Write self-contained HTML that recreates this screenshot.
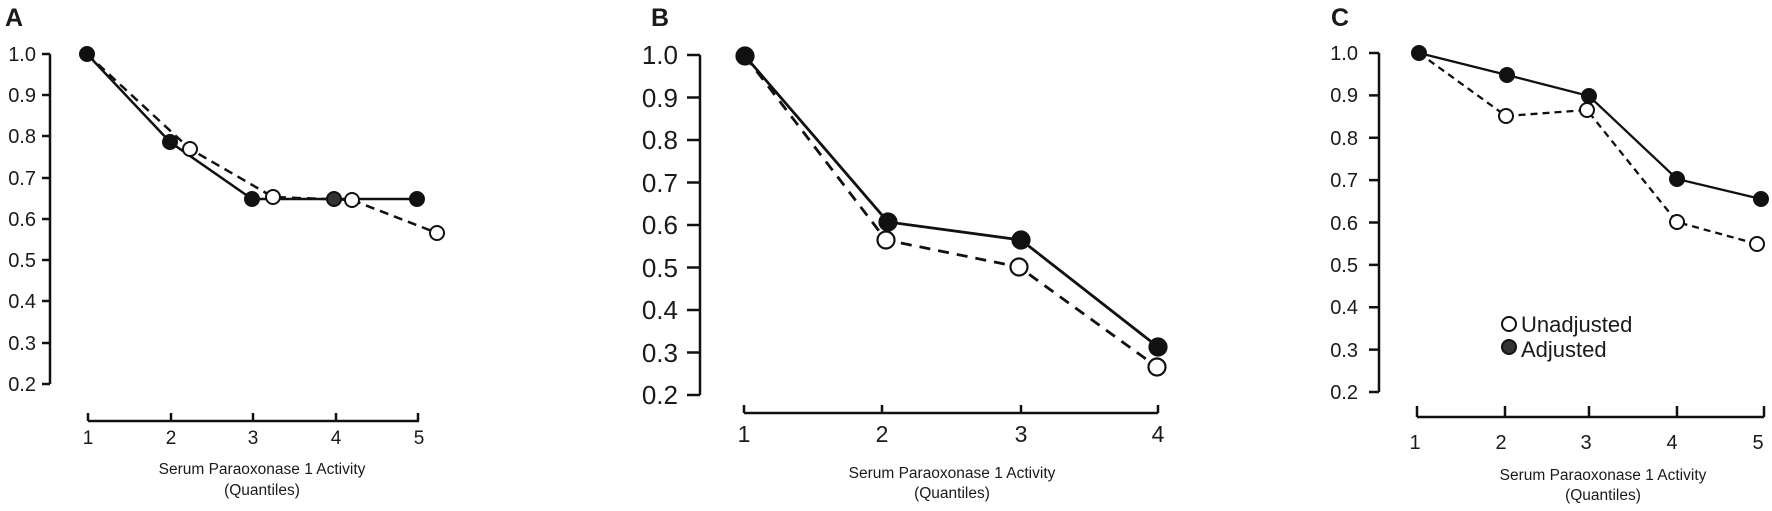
<!DOCTYPE html>
<html><head><meta charset="utf-8"><style>
html,body{margin:0;padding:0;background:#fff;}
svg{display:block;}
text{font-family:"Liberation Sans",Arial,sans-serif;fill:#1a1a1a;}
</style></head><body>
<svg width="1772" height="511" viewBox="0 0 1772 511" xmlns="http://www.w3.org/2000/svg">
<g stroke="#111" stroke-width="2.5" fill="none">
<path d="M50,54 V384 M42,54 H50 M42,95 H50 M42,136 H50 M42,178 H50 M42,219 H50 M42,260 H50 M42,301 H50 M42,343 H50 M42,384 H50"/>
<path d="M88,421 H419 M88,413 V421 M171,413 V421 M253,413 V421 M336,413 V421 M418,413 V421"/>
<path d="M700,55 V395 M687,55 H700 M687,97.5 H700 M687,140 H700 M687,182.5 H700 M687,225 H700 M687,267.5 H700 M687,310 H700 M687,352.5 H700 M687,395 H700"/>
<path d="M744,413 H1158 M744,405 V413 M882,405 V413 M1021,405 V413 M1158,405 V413"/>
<path d="M1379,53 V392 M1369,53 H1379 M1369,95.4 H1379 M1369,137.8 H1379 M1369,180.1 H1379 M1369,222.5 H1379 M1369,264.9 H1379 M1369,307.3 H1379 M1369,349.6 H1379 M1369,392 H1379"/>
<path d="M1417,417 H1764 M1417,406 V417 M1505,406 V417 M1589,406 V417 M1677,406 V417 M1764,406 V417"/>
</g>
<g stroke="#111" stroke-width="2.5" fill="none">
<polyline points="87,54 190,149 273,197 352,200 437,233" stroke-dasharray="9,6"/>
<polyline points="87,54 170,142 252,199 334,199 417,199"/>
</g>
<g stroke="#111" stroke-width="2">
<circle cx="87" cy="54" r="7" fill="#111"/>
<circle cx="170" cy="142" r="7" fill="#111"/>
<circle cx="252" cy="199" r="7" fill="#111"/>
<circle cx="334" cy="199" r="7" fill="#333"/>
<circle cx="417" cy="199" r="7" fill="#111"/>
<circle cx="190" cy="149" r="7" fill="#fff"/>
<circle cx="273" cy="197" r="7" fill="#fff"/>
<circle cx="352" cy="200" r="7" fill="#fff"/>
<circle cx="437" cy="233" r="7" fill="#fff"/>
</g>
<g stroke="#111" stroke-width="2.8" fill="none">
<polyline points="745,56 886,240 1019,267 1157,367" stroke-dasharray="11,8"/>
<polyline points="745,56 888,222 1021,240 1158,347"/>
</g>
<g stroke="#111" stroke-width="2.2">
<circle cx="745" cy="56" r="8.5" fill="#111"/>
<circle cx="886" cy="240" r="8.5" fill="#fff"/>
<circle cx="1019" cy="267" r="8.5" fill="#fff"/>
<circle cx="1157" cy="367" r="8.5" fill="#fff"/>
<circle cx="888" cy="222" r="8.5" fill="#111"/>
<circle cx="1021" cy="240" r="8.5" fill="#111"/>
<circle cx="1158" cy="347" r="8.5" fill="#111"/>
</g>
<g stroke="#111" stroke-width="2.3" fill="none">
<polyline points="1419,53 1506,116 1587,110 1677,222 1757,244" stroke-dasharray="7,5"/>
<polyline points="1419,53 1507,75 1589,96 1677,179 1761,199"/>
</g>
<g stroke="#111" stroke-width="2">
<circle cx="1506" cy="116" r="7" fill="#fff"/>
<circle cx="1587" cy="110" r="7" fill="#fff"/>
<circle cx="1677" cy="222" r="7" fill="#fff"/>
<circle cx="1757" cy="244" r="7" fill="#fff"/>
<circle cx="1419" cy="53" r="7" fill="#111"/>
<circle cx="1507" cy="75" r="7" fill="#111"/>
<circle cx="1589" cy="96" r="7" fill="#111"/>
<circle cx="1677" cy="179" r="7" fill="#111"/>
<circle cx="1761" cy="199" r="7" fill="#111"/>
<circle cx="1509" cy="324" r="7" fill="#fff"/>
<circle cx="1509" cy="347" r="7" fill="#333"/>
</g>
<text x="5" y="26" font-size="25" font-weight="bold">A</text>
<text x="651" y="26" font-size="25" font-weight="bold">B</text>
<text x="1331" y="26" font-size="25" font-weight="bold">C</text>
<g font-size="20" text-anchor="end">
<text x="36" y="61">1.0</text><text x="36" y="102">0.9</text><text x="36" y="143">0.8</text><text x="36" y="185">0.7</text><text x="36" y="226">0.6</text><text x="36" y="267">0.5</text><text x="36" y="308">0.4</text><text x="36" y="350">0.3</text><text x="36" y="391">0.2</text>
</g>
<g font-size="19" text-anchor="middle">
<text x="88" y="444">1</text><text x="171" y="444">2</text><text x="253" y="444">3</text><text x="336" y="444">4</text><text x="419" y="444">5</text>
</g>
<g font-size="15.5" text-anchor="middle">
<text x="262" y="474">Serum Paraoxonase 1 Activity</text><text x="262" y="495">(Quantiles)</text>
</g>
<g font-size="26" text-anchor="end">
<text x="678" y="64">1.0</text><text x="678" y="107">0.9</text><text x="678" y="149">0.8</text><text x="678" y="192">0.7</text><text x="678" y="234">0.6</text><text x="678" y="277">0.5</text><text x="678" y="319">0.4</text><text x="678" y="362">0.3</text><text x="678" y="404">0.2</text>
</g>
<g font-size="23" text-anchor="middle">
<text x="744" y="442">1</text><text x="882" y="442">2</text><text x="1021" y="442">3</text><text x="1158" y="442">4</text>
</g>
<g font-size="15.5" text-anchor="middle">
<text x="952" y="478">Serum Paraoxonase 1 Activity</text><text x="952" y="498">(Quantiles)</text>
</g>
<g font-size="20" text-anchor="end">
<text x="1358" y="60">1.0</text><text x="1358" y="102">0.9</text><text x="1358" y="145">0.8</text><text x="1358" y="187">0.7</text><text x="1358" y="230">0.6</text><text x="1358" y="272">0.5</text><text x="1358" y="314">0.4</text><text x="1358" y="357">0.3</text><text x="1358" y="399">0.2</text>
</g>
<g font-size="20" text-anchor="middle">
<text x="1415" y="449">1</text><text x="1501" y="449">2</text><text x="1586" y="449">3</text><text x="1672" y="449">4</text><text x="1758" y="449">5</text>
</g>
<g font-size="15.5" text-anchor="middle">
<text x="1603" y="480">Serum Paraoxonase 1 Activity</text><text x="1603" y="500">(Quantiles)</text>
</g>
<g font-size="22">
<text x="1521" y="332">Unadjusted</text><text x="1521" y="357">Adjusted</text>
</g>
</svg>
</body></html>
